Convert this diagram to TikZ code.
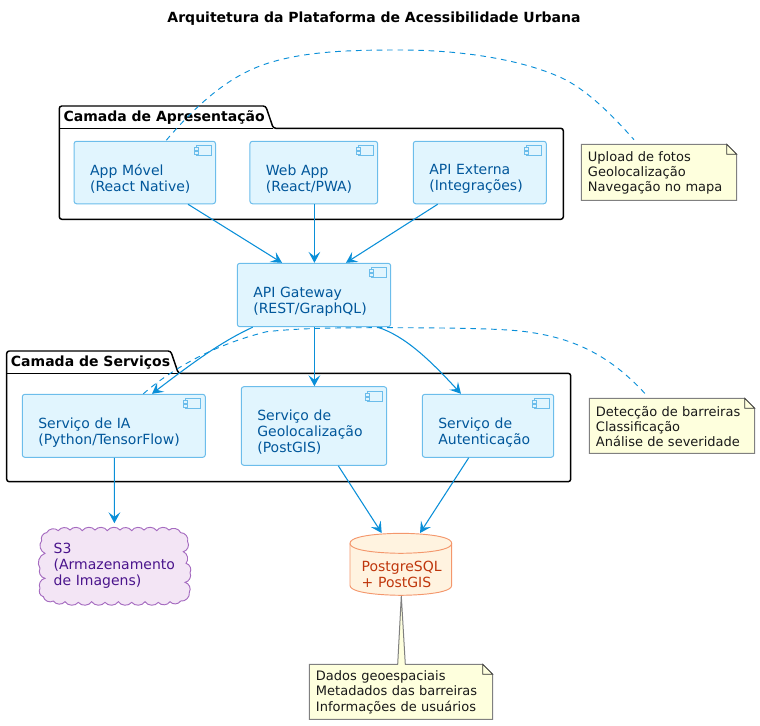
\documentclass[tikz,border=0pt]{standalone}
\usepackage{fontspec}
\setmainfont{DejaVu Sans}
\usetikzlibrary{arrows.meta}
\definecolor{linkblue}{HTML}{0A8FD8}
\definecolor{compfill}{HTML}{E1F5FE}
\definecolor{compline}{HTML}{6CBDEB}
\definecolor{comptext}{HTML}{01579B}
\definecolor{cloudfill}{HTML}{F3E5F5}
\definecolor{cloudline}{HTML}{A56BC0}
\definecolor{cloudtext}{HTML}{4A148C}
\definecolor{dbfill}{HTML}{FFF3E0}
\definecolor{dbline}{HTML}{F4976C}
\definecolor{dbtext}{HTML}{BF360C}
\definecolor{notefill}{HTML}{FEFFDD}
\definecolor{noteline}{HTML}{808080}
\newcommand{\fsize}{\fontsize{10.5}{12}\selectfont}
\newcommand{\nsize}{\fontsize{9.75}{11.4}\selectfont}
\newcommand{\topgap}{\rule{0pt}{17.6pt}}
\tikzset{
  x=0.75pt,y=-0.75pt,
  comp/.style n args={2}{draw=compline,fill=compfill,rounded corners=1.9pt,line width=0.75pt,
    text=comptext,font=\fsize,align=left,inner xsep=12pt,inner ysep=0pt,
    text width={(#1-32)*0.75pt},minimum height={#2*0.75pt}},
  notetext/.style n args={2}{inner xsep=5pt,inner ysep=0pt,align=left,font=\nsize,text=black!90,
    text width={(#1)*0.75pt-10pt},minimum height={#2*0.75pt}},
  pkgline/.style={draw=black,line width=1.1pt,rounded corners=1.9pt},
  pkglabel/.style={inner sep=0pt,anchor=base west,font=\fontsize{10.5}{12}\selectfont\bfseries},
  notebody/.style={draw=noteline,fill=notefill,line width=0.75pt},
  notefold/.style={draw=black!80,fill=notefill,line width=0.6pt},
  iconline/.style={draw=compline,fill=compfill,line width=0.75pt},
  link/.style={draw=linkblue,line width=0.8pt,-{Stealth[length=8.2pt,width=8.8pt,inset=3.4pt]}},
  dashlink/.style={draw=linkblue,line width=0.7pt,dash pattern=on 4.2pt off 3.6pt},
}
\newcommand{\compicon}[1]{%
  \begin{scope}[shift={(#1.north east)}]
    \path[iconline] (-20,5) rectangle (-5,15);
    \path[iconline] (-22,7) rectangle (-18,10);
    \path[iconline] (-22,11) rectangle (-18,14);
  \end{scope}}
\newcommand{\notebox}[4]{%
  \path[notebody] (#1,#2) -- (#3-10,#2) -- (#3,#2+10) -- (#3,#4) -- (#1,#4) -- cycle;
  \path[notefold] (#3-10,#2) -- (#3-10,#2+10) -- (#3,#2+10) -- cycle;}
\begin{document}
\begin{tikzpicture}
\useasboundingbox (0,0) rectangle (760,725);
\node[inner sep=0pt,font=\fontsize{10.5}{12}\selectfont\bfseries] (title) at (374,19) {Arquitetura da Plataforma de Acessibilidade Urbana};

% packages
\path[pkgline] (59.3,128.3) -- (59.3,106) -- (265.7,106) -- (273.3,128.3) -- (563.3,128.3) -- (563.3,219.3) -- (59.3,219.3) -- cycle;
\draw[draw=black,line width=1.1pt] (59.3,128.3) -- (273.3,128.3);
\node[pkglabel] (pkgA) at (63.3,121.6) {Camada de Apresentação};
\path[pkgline] (6.7,373.3) -- (6.7,351) -- (170.7,351) -- (178.3,373.3) -- (570.7,373.3) -- (570.7,481.7) -- (6.7,481.7) -- cycle;
\draw[draw=black,line width=1.1pt] (6.7,373.3) -- (178.3,373.3);
\node[pkglabel] (pkgB) at (10.7,366.6) {Camada de Serviços};

% components
\node[comp={141.5}{62.5}] (app) at (144.8,172.5) {\topgap App Móvel\\(React Native)};
\node[comp={127.7}{62.5}] (web) at (313.8,172.5) {\topgap Web App\\(React/PWA)};
\node[comp={133}{62.5}] (ext) at (479.8,172.5) {\topgap API Externa\\(Integrações)};
\node[comp={153.4}{63.4}] (gw) at (314,295) {\topgap API Gateway\\(REST/GraphQL)};
\node[comp={183}{63}] (ia) at (113.8,425.8) {\topgap Serviço de IA\\(Python/TensorFlow)};
\node[comp={145.4}{78.6}] (geo) at (314,426) {\topgap Serviço de\\Geolocalização\\(PostGIS)};
\node[comp={131.4}{63}] (aut) at (488,425.8) {\topgap Serviço de\\Autenticação};
\compicon{app}\compicon{web}\compicon{ext}\compicon{gw}\compicon{ia}\compicon{geo}\compicon{aut}

% cloud
\begin{scope}[shift={(20,500)},x=0.25pt,y=-0.25pt]
\path[draw=cloudline,fill=cloudfill,line width=0.7pt,every to/.style={bend left=55}]
  (65,122) to (80,98) to (115,92) to (150,90) to (187,92) to (225,90) to (262,92) to (300,90)
  to (335,92) to (372,90) to (410,92) to (447,90) to (482,98) to (503,125) to (490,155)
  to (498,190) to (510,218) to (495,247) to (508,277) to (482,303) to (450,305) to (415,307)
  to (375,305) to (335,307) to (295,305) to (255,307) to (215,305) to (175,307) to (135,305)
  to (100,303) to (70,290) to (60,265) to (75,235) to (60,205) to (75,160) to cycle;
\end{scope}
\node[minimum width=112.5pt,minimum height=62.25pt,inner xsep=10pt,inner ysep=0pt,align=left,
  text width=92.5pt,text=cloudtext,font=\fsize] (s3) at (115.3,565.5) {S3\\(Armazenamento\\de Imagens)};

% database
\path[draw=dbline,fill=dbfill,line width=0.7pt]
  (350,543.3) .. controls (350,533.3) and (400.8,533.3) .. (400.8,533.3)
  .. controls (400.8,533.3) and (451.7,533.3) .. (451.7,543.3)
  -- (451.7,585.3) .. controls (451.7,595.3) and (400.8,595.3) .. (400.8,595.3)
  .. controls (400.8,595.3) and (350,595.3) .. (350,585.3) -- cycle;
\path[draw=dbline,line width=0.7pt]
  (350,543.3) .. controls (350,553.3) and (400.8,553.3) .. (400.8,553.3)
  .. controls (400.8,553.3) and (451.7,553.3) .. (451.7,543.3);
\node[minimum width=76.3pt,minimum height=46.5pt,inner xsep=8.8pt,inner ysep=0pt,align=left,
  text width=58.7pt,text=dbtext,font=\fsize] (db) at (400.8,564.3) {\rule{0pt}{23pt}PostgreSQL\\+ PostGIS};

% notes
\notebox{581.3}{144.3}{736.7}{200.3}
\node[notetext={155.4}{56}] (noteA) at (659,173) {Upload de fotos\\Geolocalização\\Navegação no mapa};
\notebox{589.3}{398.3}{754.7}{453.3}
\node[notetext={165.4}{55}] (noteB) at (672,426.3) {Detecção de barreiras\\Classificação\\Análise de severidade};
\path[notebody] (309.3,664.3) -- (397.7,664.3) -- (401.3,596) -- (405.3,664.3) -- (482.7,664.3) -- (492.7,674.3) -- (492.7,719.3) -- (309.3,719.3) -- cycle;
\path[notefold] (482.7,664.3) -- (482.7,674.3) -- (492.7,674.3) -- cycle;
\node[notetext={183.4}{55}] (noteC) at (401,692.3) {Dados geoespaciais\\Metadados das barreiras\\Informações de usuários};

% connectors
\draw[link] ([shift={(43.2,0)}]app.south) -- ([shift={(-32,0)}]gw.north);
\draw[link] ([shift={(0.6,0)}]web.south) -- ([shift={(0.4,0)}]gw.north);
\draw[link] ([shift={(-42.1,0)}]ext.south) -- ([shift={(32,0)}]gw.north);
\draw[link] ([shift={(-61.3,0)}]gw.south) .. controls (225,340) and (200,357) .. ([shift={(38.2,0)}]ia.north);
\draw[link] ([shift={(0.4,0)}]gw.south) -- ([shift={(0.4,0)}]geo.north);
\draw[link] ([shift={(63.7,0)}]gw.south) .. controls (405,336) and (430,360) .. ([shift={(-27,0)}]aut.north);
\draw[link] ([shift={(0.6,0)}]ia.south) -- ([shift={(-0.9,-0.5)}]s3.north);
\draw[link] ([shift={(24.3,0)}]geo.south) -- ([shift={(-19.1,0)}]db.north);
\draw[link] ([shift={(-19.3,0)}]aut.south) -- ([shift={(19.2,0)}]db.north);
\draw[dashlink] ([shift={(21.5,-0.5)}]app.north) .. controls (198,103) and (228,78) .. (260,66)
  .. controls (300,51) and (350,50) .. (400,50)
  .. controls (470,50) and (530,62) .. (566,80)
  .. controls (590,93) and (612,115) .. ([shift={(-25,-5)}]noteA.north);
\draw[dashlink] ([shift={(29.5,0)}]ia.north) .. controls (165,375) and (205,347) .. (266.7,331.7)
  .. controls (300,328) and (340,327.7) .. (380,327.7)
  .. controls (430,327.7) and (490,328) .. (520,331)
  .. controls (565,336) and (605,350) .. ([shift={(-27,-5)}]noteB.north);
\end{tikzpicture}
\end{document}
